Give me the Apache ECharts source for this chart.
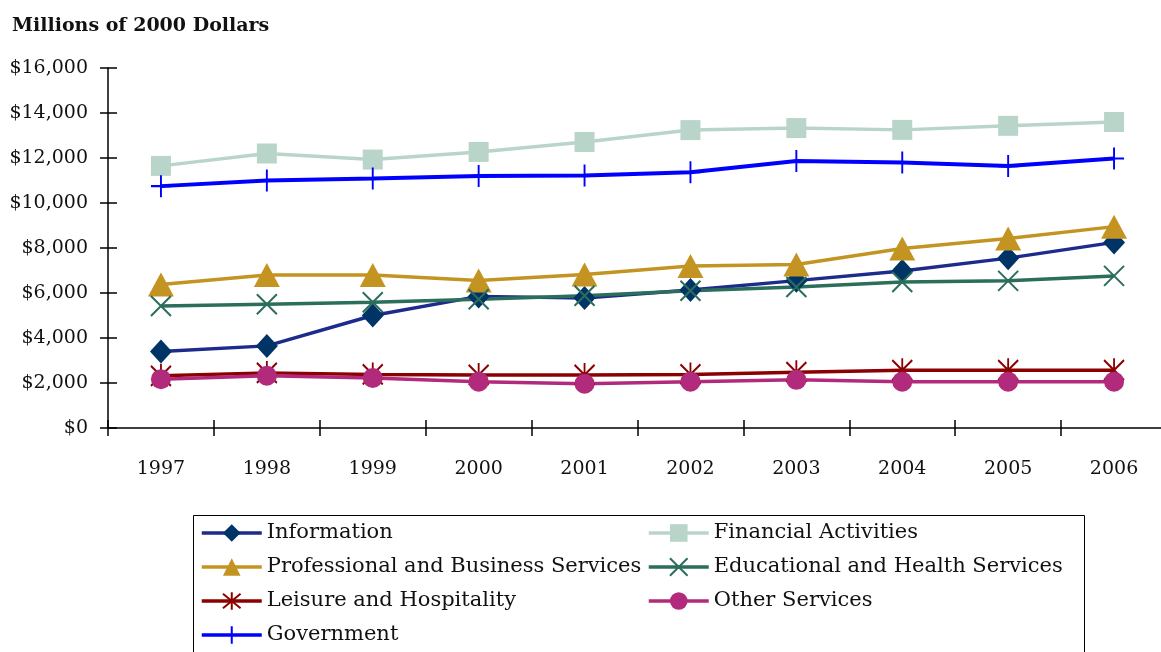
<!DOCTYPE html>
<html>
<head>
<meta charset="utf-8">
<script src="https://cdn.jsdelivr.net/npm/echarts@6/dist/echarts.min.js"></script>
<style>
  html, body { margin: 0; padding: 0; background: #fff; overflow: hidden; }
  #main { width: 1180px; height: 652px; }
</style>
</head>
<body>
<div id="main"></div>
<script>
// 数据
var years = ['1997', '1998', '1999', '2000', '2001', '2002', '2003', '2004', '2005', '2006'];
var information  = [3400, 3650, 5000, 5850, 5780, 6130, 6550, 6980, 7550, 8250];
var financial    = [11650, 12200, 11930, 12270, 12710, 13240, 13330, 13250, 13430, 13600];
var professional = [6380, 6800, 6800, 6560, 6820, 7200, 7270, 7980, 8420, 8950];
var educational  = [5420, 5500, 5590, 5720, 5880, 6100, 6270, 6490, 6540, 6760];
var leisure      = [2320, 2450, 2380, 2360, 2360, 2380, 2480, 2570, 2570, 2570];
var otherSvc     = [2170, 2320, 2220, 2060, 1970, 2060, 2140, 2060, 2060, 2060];
var government   = [10750, 11000, 11090, 11200, 11220, 11370, 11870, 11800, 11640, 11980];
var yTicks = [0, 2000, 4000, 6000, 8000, 10000, 12000, 14000, 16000];

var FONT = 'DejaVu Serif';
var chart = echarts.init(document.getElementById('main'));

var plusPath = 'path://M0,11 L20,11 M10,0 L10,22';
var xPath = 'path://M0,0 L20,20 M20,0 L0,20';
var starPath = 'path://M0,0 L20,20 M20,0 L0,20 M10,-2 L10,22';

function mkLine(name, data, color, symbol, size, symColor, extra) {
  var s = {
    name: name,
    type: 'line',
    data: data,
    xAxisIndex: 0,
    yAxisIndex: 0,
    symbol: symbol,
    symbolSize: size,
    showAllSymbol: true,
    animation: false,
    lineStyle: { color: color, width: 3.5 },
    itemStyle: { color: symColor || color }
  };
  if (extra) {
    for (var k in extra) s[k] = extra[k];
  }
  return s;
}

var strokeStyle = function (c) {
  return { color: 'rgba(0,0,0,0)', borderColor: c, borderWidth: 2 };
};

var legendCommon = {
  orient: 'vertical',
  top: 517,
  height: 200,
  itemWidth: 60,
  itemHeight: 22,
  itemGap: 12,
  lineStyle: { width: 3.5 },
  textStyle: { fontFamily: FONT, fontSize: 21, color: '#111', lineHeight: 22 }
};

chart.setOption({
  backgroundColor: '#fff',
  animation: false,
  title: {
    text: 'Millions of 2000 Dollars',
    left: 7,
    top: 12,
    textStyle: { fontFamily: FONT, fontWeight: 'bold', fontSize: 19, color: '#111' }
  },
  grid: { left: 108, top: 68, width: 1059, height: 360 },
  legend: [
    Object.assign({}, legendCommon, {
      left: 195,
      data: ['Information', 'Professional and Business Services', 'Leisure and Hospitality', 'Government']
    }),
    Object.assign({}, legendCommon, {
      left: 642,
      data: ['Financial Activities', 'Educational and Health Services', 'Other Services']
    })
  ],
  graphic: [{
    type: 'rect',
    shape: { x: 193.5, y: 515.5, width: 891, height: 150 },
    style: { fill: 'none', stroke: '#000', lineWidth: 1 }
  }],
  xAxis: [{
    type: 'category',
    data: years,
    boundaryGap: true,
    axisLine: { lineStyle: { color: '#000', width: 1.5 } },
    axisTick: { show: true, length: 8, lineStyle: { color: '#000', width: 1.5 } },
    axisLabel: { margin: 32, fontFamily: FONT, fontSize: 19, color: '#111' },
    splitLine: { show: false }
  }, {
    type: 'category',
    data: years,
    position: 'bottom',
    boundaryGap: true,
    axisLine: { show: false },
    axisTick: { show: true, inside: true, length: 8, lineStyle: { color: '#000', width: 1.5 } },
    axisLabel: { show: false },
    splitLine: { show: false }
  }],
  yAxis: [{
    type: 'value',
    min: yTicks[0],
    max: yTicks[yTicks.length - 1],
    interval: 2000,
    axisLine: { show: true, lineStyle: { color: '#000', width: 1.5 } },
    axisTick: { show: true, length: 8, lineStyle: { color: '#000', width: 1.5 } },
    axisLabel: {
      margin: 20,
      fontFamily: FONT,
      fontSize: 19,
      color: '#111',
      formatter: function (v) { return '$' + v.toLocaleString('en-US'); }
    },
    splitLine: { show: false }
  }, {
    type: 'value',
    position: 'left',
    min: yTicks[0],
    max: yTicks[yTicks.length - 1],
    interval: 2000,
    axisLine: { show: false },
    axisTick: { show: true, inside: true, length: 9, lineStyle: { color: '#000', width: 1.5 } },
    axisLabel: { show: false },
    splitLine: { show: false }
  }],
  series: [
    mkLine('Information', information, '#1c2b8c', 'diamond', [22, 24], '#003366'),
    mkLine('Financial Activities', financial, '#b9d5c9', 'rect', 20, '#b9d5c9'),
    mkLine('Professional and Business Services', professional, '#c49423', 'triangle', [26, 24], '#c49423'),
    mkLine('Educational and Health Services', educational, '#2a6e5b', xPath, 20, null, { itemStyle: strokeStyle('#2a6e5b') }),
    mkLine('Leisure and Hospitality', leisure, '#8b0000', starPath, [20, 24], null, { itemStyle: strokeStyle('#8b0000') }),
    mkLine('Other Services', otherSvc, '#b22a7b', 'circle', 20, '#b22a7b'),
    mkLine('Government', government, '#0000ff', plusPath, [20, 22], null, { itemStyle: strokeStyle('#0000ff'), lineStyle: { color: '#0000ff', width: 4 } })
  ]
});
</script>
</body>
</html>
